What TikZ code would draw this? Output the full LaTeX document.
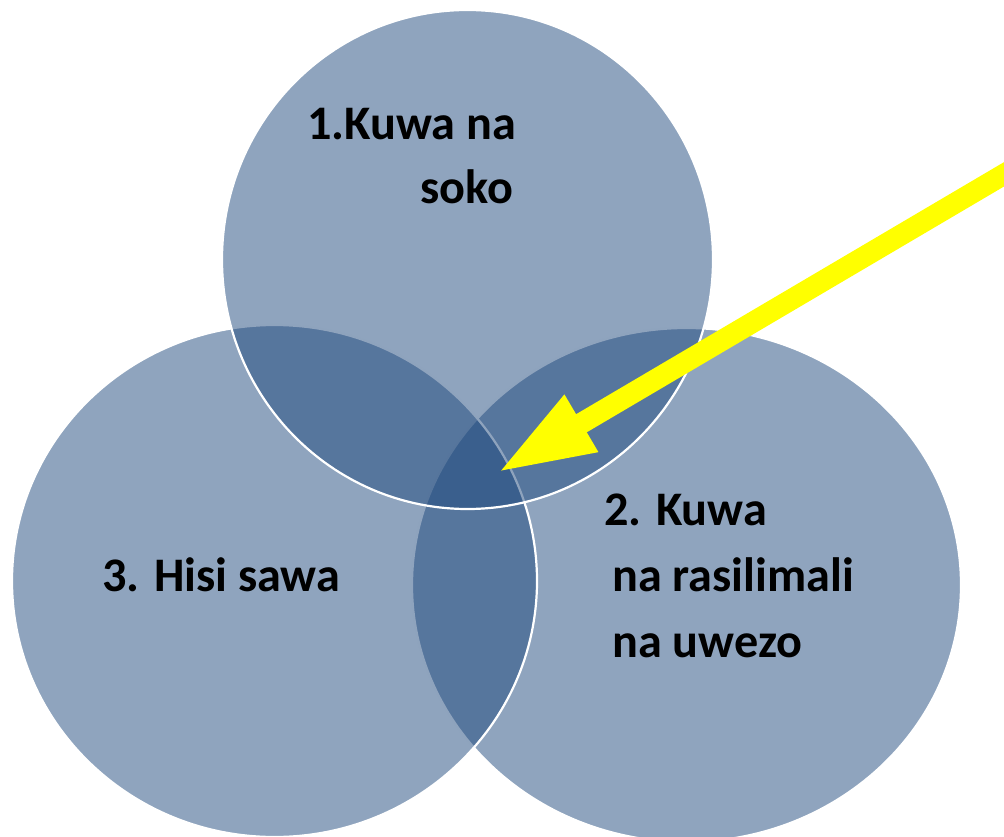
\documentclass[tikz,border=0pt]{standalone}
\usepackage{fontspec}
\setmainfont{Carlito}
\usetikzlibrary{shapes.geometric,arrows.meta}
\definecolor{vblue}{HTML}{1F497D}
\definecolor{ayellow}{HTML}{FFFF00}
\begin{document}
\begin{tikzpicture}[x=1pt,y=-1pt,
  venn/.style={ellipse, draw=white, line width=2.2pt, fill=vblue, fill opacity=0.5, draw opacity=1, inner sep=0pt},
  lbl/.style={anchor=base west, font=\fontsize{48.2}{56}\selectfont\bfseries, text=black, inner sep=0pt},
  bigarrow/.style={draw=ayellow, line width=21pt, -{Triangle[width=60pt,length=98pt,fill=ayellow]}}]
\useasboundingbox (0,0) rectangle (1004,837);
\node[venn, minimum width=549pt, minimum height=514pt] (c2) at (686.5,585) {};
\node[venn, minimum width=525pt, minimum height=512pt] (c3) at (274.5,581) {};
\node[venn, minimum width=491pt, minimum height=499pt] (c1) at (467.5,259.5) {};
\coordinate (tail) at (1030,159);
\coordinate (tip) at (497,473);
\begin{scope}
\clip (0,0) rectangle (1004,837);
\draw[bigarrow] (tail) -- (tip);
\end{scope}
\node[lbl] (t1a) at (307,140) {1.Kuwa na};
\node[lbl] (t1b) at (420,204) {soko};
\node[lbl] (t3) at (102,591) {3. Hisi sawa};
\node[lbl] (t2a) at (604,525) {2. Kuwa};
\node[lbl] (t2b) at (612,591) {na rasilimali};
\node[lbl] (t2c) at (612,657) {na uwezo};
\end{tikzpicture}
\end{document}
